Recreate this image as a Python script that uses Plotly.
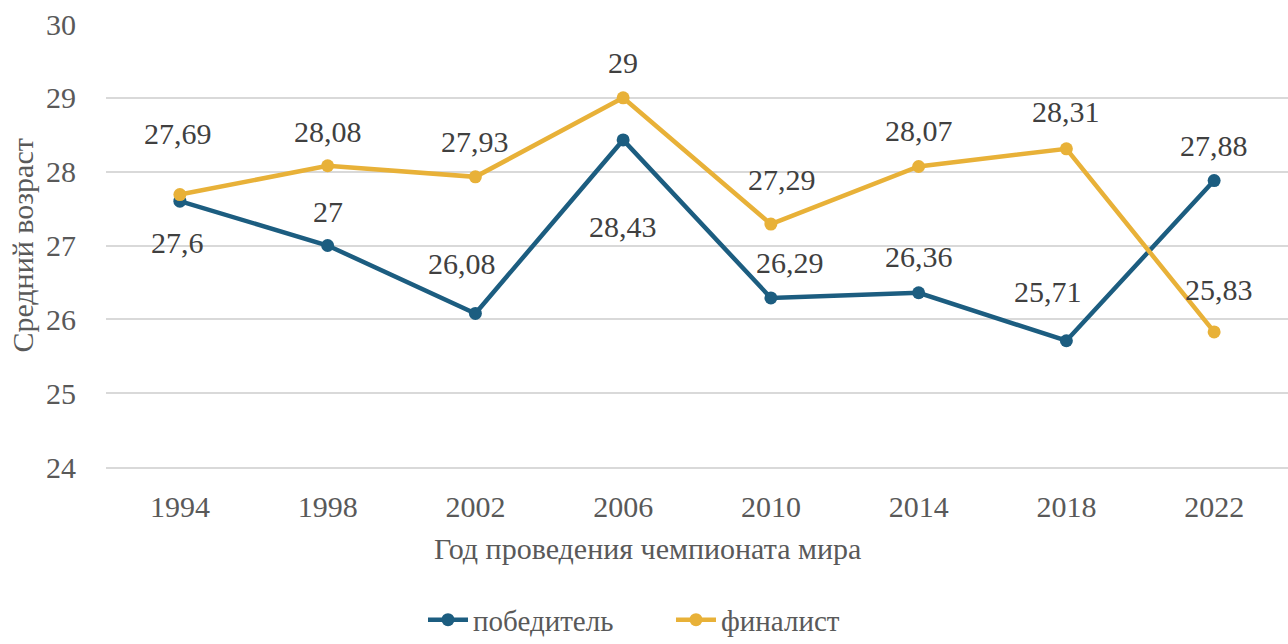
import plotly.graph_objects as go

years = ["1994", "1998", "2002", "2006", "2010", "2014", "2018", "2022"]
winner = [27.6, 27.0, 26.08, 28.43, 26.29, 26.36, 25.71, 27.88]
finalist = [27.69, 28.08, 27.93, 29.0, 27.29, 28.07, 28.31, 25.83]
winner_labels = ["27,6", "27", "26,08", "28,43", "26,29", "26,36", "25,71", "27,88"]
finalist_labels = ["27,69", "28,08", "27,93", "29", "27,29", "28,07", "28,31", "25,83"]

# label pixel offsets (layout only)
winner_dy = [-41, 34, 50, -87, 35, 36, 49, 35]
winner_dx = [-2, 0, -13, 0, 19, 0, -18, 0]
finalist_dy = [61, 34, 35, 35, 45, 36, 37, 42]
finalist_dx = [-2, 0, 0, 0, 11, 0, 0, 5]

BLUE = "#1c5d80"
GOLD = "#e8b138"
FONT = "'Liberation Serif', 'Times New Roman', 'DejaVu Serif', serif"

fig = go.Figure()
fig.add_trace(go.Scatter(x=years, y=winner, name="победитель", mode="lines+markers",
                         line=dict(color=BLUE, width=4.5), marker=dict(size=13, color=BLUE)))
fig.add_trace(go.Scatter(x=years, y=finalist, name="финалист", mode="lines+markers",
                         line=dict(color=GOLD, width=4.5), marker=dict(size=13, color=GOLD)))

for ys, labs, dys, dxs in [(winner, winner_labels, winner_dy, winner_dx),
                           (finalist, finalist_labels, finalist_dy, finalist_dx)]:
    for i, (y, t, dy, dx) in enumerate(zip(ys, labs, dys, dxs)):
        fig.add_annotation(x=i, y=y, xref="x", yref="y", text=t, showarrow=False,
                           yshift=dy, xshift=dx,
                           font=dict(family=FONT, size=30, color="#404040"))

fig.add_annotation(xref="paper", yref="paper", x=0.458, y=-0.183, text="Год проведения чемпионата мира",
                   showarrow=False, xanchor="center", yanchor="middle",
                   font=dict(family=FONT, size=30, color="#595959"))
fig.add_annotation(xref="paper", yref="paper", x=-0.071, y=0.5, text="Средний возраст",
                   showarrow=False, textangle=-90, xanchor="center", yanchor="middle",
                   font=dict(family=FONT, size=30, color="#595959"))

fig.update_layout(
    width=1288, height=644,
    margin=dict(l=106, r=0, t=24, b=177, autoexpand=False),
    paper_bgcolor="white", plot_bgcolor="white",
    font=dict(family=FONT, size=30, color="#595959"),
    showlegend=True,
    legend=dict(orientation="h", x=0.478, xanchor="center", y=-0.345, yanchor="middle",
                font=dict(family=FONT, size=29, color="#595959"), itemwidth=40,
                entrywidth=193, traceorder="normal"),
    xaxis=dict(type="category", range=[-0.5, 7.5], showgrid=False, automargin=False,
               showline=True, linecolor="#d9d9d9", linewidth=1.5,
               ticks="", ticklabelstandoff=12, tickfont=dict(size=30, color="#595959")),
    yaxis=dict(range=[24, 30], dtick=1, showgrid=True, gridcolor="#d9d9d9", gridwidth=1.5,
               zeroline=False, showline=False, ticks="", ticklabelstandoff=29, automargin=False,
               tickfont=dict(size=30, color="#595959")),
)

fig.write_html("out.html")
